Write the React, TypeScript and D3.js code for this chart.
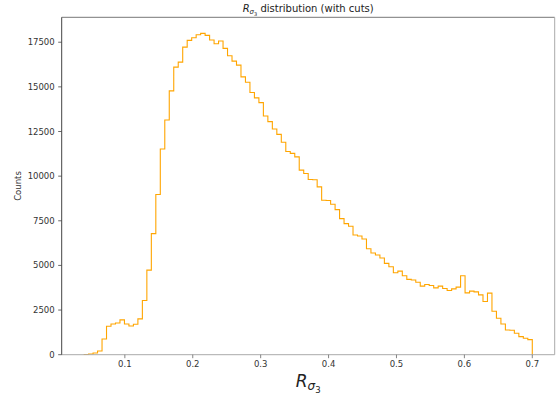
import React from "react";
import * as d3 from "d3";

// Histogram: 100 equal bins from 0.04 to 0.7
const binStart = 0.04;
const binEnd = 0.7;
const counts: number[] = [
  15, 40, 94, 206, 880, 1592, 1723, 1779, 1948, 1723,
  1610, 1704, 2004, 3034, 4738, 6779, 8970, 11517, 13146, 14775,
  16105, 16386, 17228, 17603, 17753, 17921, 17996, 17884, 17622, 17416,
  17566, 17154, 16742, 16442, 16217, 15562, 15262, 14682, 14382, 14120,
  13371, 13052, 12640, 12341, 11900, 11376, 11273, 11077, 10337, 10150,
  9813, 9800, 9401, 8652, 8640, 8427, 8127, 7622, 7341, 7191,
  6704, 6648, 6479, 5936, 5693, 5581, 5412, 5112, 4925, 4588,
  4682, 4419, 4220, 4185, 4055, 3839, 3933, 3876, 3745, 3839,
  3708, 3596, 3689, 3783, 4419, 3464, 3558, 3521, 3352, 2978,
  3446, 2434, 2041, 1723, 1386, 1367, 1199, 1011, 918, 843,
];
const xTicks: number[] = [0.1, 0.2, 0.3, 0.4, 0.5, 0.6, 0.7];
const yTicks: number[] = [0, 2500, 5000, 7500, 10000, 12500, 15000, 17500];

const W = 557;
const H = 394;
const L = 61.7;
const R = 554.7;
const T = 17.3;
const B = 354.7;
const FONT = "DejaVu Sans, sans-serif";

export default function App() {
  const n = counts.length;
  const bw = (binEnd - binStart) / n;
  const edges = d3.range(n + 1).map((i) => binStart + i * bw);
  const span = binEnd - binStart;
  const x = d3
    .scaleLinear()
    .domain([binStart - 0.05 * span, binEnd + 0.05 * span])
    .range([L, R]);
  const maxC = d3.max(counts) as number;
  const y = d3.scaleLinear().domain([0, maxC * 1.05]).range([B, T]);

  const pts: [number, number][] = [[x(edges[0]), y(0)]];
  counts.forEach((c, i) => {
    pts.push([x(edges[i]), y(c)]);
    pts.push([x(edges[i + 1]), y(c)]);
  });
  pts.push([x(edges[n]), y(0)]);
  const path = d3.line()(pts) as string;

  return (
    <svg
      width={W}
      height={H}
      style={{ position: "absolute", left: 0, top: 0, background: "#fff" }}
      fontFamily={FONT}
    >
      <rect x={0} y={0} width={W} height={H} fill="#fff" />
      <path d={path} fill="none" stroke="#FFA500" strokeWidth={1.1} />
      {/* spines */}
      <line x1={L} x2={R} y1={T} y2={T} stroke="#777" strokeWidth={1} />
      <line x1={R} x2={R} y1={T} y2={B} stroke="#aaa" strokeWidth={1} />
      <line x1={L} x2={R} y1={B} y2={B} stroke="#aaa" strokeWidth={1} />
      <line x1={L} x2={L} y1={T} y2={B} stroke="#444" strokeWidth={1} />
      {/* x ticks */}
      {xTicks.map((t) => (
        <g key={"x" + t}>
          <line x1={x(t)} x2={x(t)} y1={B} y2={B + 3.5} stroke="#666" strokeWidth={0.8} />
          <text x={x(t)} y={B + 12.5} fontSize={8.5} fill="#333" textAnchor="middle">
            {t.toFixed(1)}
          </text>
        </g>
      ))}
      {/* y ticks */}
      {yTicks.map((t) => (
        <g key={"y" + t}>
          <line x1={L - 3.5} x2={L} y1={y(t)} y2={y(t)} stroke="#444" strokeWidth={0.8} />
          <text x={L - 7} y={y(t) + 3} fontSize={8.5} fill="#333" textAnchor="end">
            {t}
          </text>
        </g>
      ))}
      {/* y label */}
      <text
        transform={`translate(20.5,${(T + B) / 2}) rotate(-90)`}
        fontSize={8.5}
        fill="#333"
        textAnchor="middle"
      >
        Counts
      </text>
      {/* title */}
      <text x={(L + R) / 2} y={12} fontSize={10} fill="#222" textAnchor="middle">
        <tspan fontStyle="italic">R</tspan>
        <tspan fontStyle="italic" fontSize={7} dy={2}>σ</tspan>
        <tspan fontSize={5} dy={1.5}>3</tspan>
        <tspan dy={-3.5}> distribution (with cuts)</tspan>
      </text>
      {/* x label */}
      <text x={(L + R) / 2} y={387} fontSize={17} fill="#222" textAnchor="middle">
        <tspan fontStyle="italic">R</tspan>
        <tspan fontStyle="italic" fontSize={12} dy={3}>σ</tspan>
        <tspan fontSize={8.5} dy={2.5}>3</tspan>
      </text>
    </svg>
  );
}
